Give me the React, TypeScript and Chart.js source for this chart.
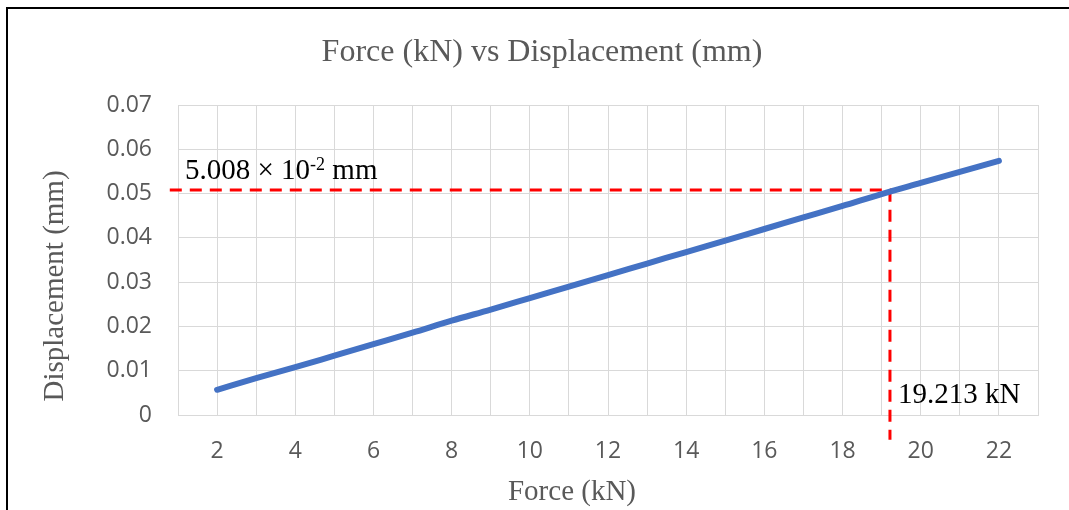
import React, { useEffect, useRef } from "react";
import { Chart, registerables } from "chart.js";

Chart.register(...registerables);

// ---- data ----
const forceKN = [2, 3, 4, 5, 6, 7, 8, 9, 10, 11, 12, 13, 14, 15, 16, 17, 18, 19, 20, 21, 22];
const displacementMM = [
  0.0057, 0.0083, 0.0108, 0.0134, 0.016, 0.0186, 0.0213, 0.0238, 0.0264, 0.029, 0.0316,
  0.0342, 0.0368, 0.0394, 0.042, 0.0446, 0.0472, 0.0499, 0.0524, 0.0549, 0.0574,
];
const xTickLabels = ["2", "4", "6", "8", "10", "12", "14", "16", "18", "20", "22"];
const yTickLabels = ["0", "0.01", "0.02", "0.03", "0.04", "0.05", "0.06", "0.07"];

// marker (dashed guide lines)
const markerForce = 19.213;
const markerDisp = 0.0508;
const markerStartForce = 0.79;
const markerEndDisp = -0.0056;
const markerDispMantissa = "5.008 \u00d7 10";
const markerDispExponent = "-2";
const markerDispUnit = " mm";
const markerForceLabel = "19.213 kN";

const chartTitle = "Force (kN) vs Displacement (mm)";
const xTitle = "Force (kN)";
const yTitle = "Displacement (mm)";

const SERIF = "'Liberation Serif', 'Times New Roman', serif";
const SANS = "'Open Sans', sans-serif";

const textPlugin = {
  id: "textPlugin",
  afterDraw(chart: any) {
    const ctx = chart.ctx as CanvasRenderingContext2D;
    const xs = chart.scales.x;
    const ys = chart.scales.y;
    ctx.save();
    // chart title
    ctx.fillStyle = "#595959";
    ctx.font = `32px ${SERIF}`;
    ctx.textAlign = "center";
    ctx.textBaseline = "alphabetic";
    ctx.fillText(chartTitle, 542, 61);
    // x title
    ctx.font = `29px ${SERIF}`;
    ctx.fillText(xTitle, 572, 500);
    // y title
    ctx.save();
    ctx.translate(63, 286);
    ctx.rotate(-Math.PI / 2);
    ctx.fillText(yTitle, 0, 0);
    ctx.restore();

    // annotation: displacement
    ctx.fillStyle = "#000000";
    ctx.textAlign = "left";
    let ax = xs.getPixelForValue(1) + 7;
    const ay = ys.getPixelForValue(markerDisp) - 11;
    ctx.font = `29px ${SERIF}`;
    ctx.fillText(markerDispMantissa, ax, ay);
    ax += ctx.measureText(markerDispMantissa).width;
    ctx.font = `18px ${SERIF}`;
    ctx.fillText(markerDispExponent, ax, ay - 9);
    ax += ctx.measureText(markerDispExponent).width;
    ctx.font = `29px ${SERIF}`;
    ctx.fillText(markerDispUnit, ax, ay);

    // annotation: force
    ctx.fillText(markerForceLabel, xs.getPixelForValue(markerForce) + 8, ys.getPixelForValue(0) - 12);
    ctx.restore();
  },
};

export default function App() {
  const ref = useRef<HTMLCanvasElement | null>(null);
  useEffect(() => {
    if (!ref.current) return;
    const chart = new Chart(ref.current, {
      type: "line",
      data: {
        datasets: [
          {
            label: "guide",
            data: [
              { x: markerStartForce, y: markerDisp },
              { x: markerForce, y: markerDisp },
              { x: markerForce, y: markerEndDisp },
            ],
            borderColor: "#FF0000",
            borderWidth: 3,
            borderDash: [12, 8],
            pointRadius: 0,
            tension: 0,
            clip: false as any,
            order: 2,
          },
          {
            label: "Displacement",
            data: forceKN.map((f, i) => ({ x: f, y: displacementMM[i] })),
            borderColor: "#4472C4",
            borderWidth: 6,
            borderCapStyle: "round",
            borderJoinStyle: "round",
            pointRadius: 0,
            cubicInterpolationMode: "monotone",
            order: 1,
          },
        ],
      },
      options: {
        animation: false,
        responsive: false,
        devicePixelRatio: 1,
        layout: { padding: { left: 0, top: 105, right: 31, bottom: 0 } },
        plugins: { legend: { display: false }, tooltip: { enabled: false }, title: { display: false } },
        scales: {
          x: {
            type: "linear",
            min: 1,
            max: 23,
            afterFit: (s: any) => {
              s.height = 95;
            },
            grid: { color: "#D9D9D9", lineWidth: 1, drawTicks: false },
            border: { color: "#D9D9D9", width: 1 },
            ticks: {
              stepSize: 1,
              autoSkip: false,
              maxRotation: 0,
              padding: 23,
              color: "#595959",
              font: { family: SANS, size: 23 },
              callback: (v: any) => (xTickLabels.includes(String(v)) ? String(v) : ""),
            },
          },
          y: {
            type: "linear",
            min: 0,
            max: 0.07,
            afterFit: (s: any) => {
              s.width = 178;
            },
            grid: { color: "#D9D9D9", lineWidth: 1, drawTicks: false },
            border: { color: "#D9D9D9", width: 1 },
            ticks: {
              stepSize: 0.01,
              padding: 26,
              color: "#595959",
              font: { family: SANS, size: 23 },
              callback: (v: any) => yTickLabels[Math.round(Number(v) * 100)] ?? "",
            },
          },
        },
      },
      plugins: [textPlugin],
    });
    return () => chart.destroy();
  }, []);

  return (
    <div style={{ position: "absolute", left: 0, top: 0, width: 1069, height: 510, overflow: "hidden", background: "#fff" }}>
      <div
        style={{
          position: "absolute",
          left: 6,
          top: 7,
          right: 0,
          bottom: 0,
          borderTop: "2px solid #000",
          borderLeft: "2px solid #000",
        }}
      />
      <canvas ref={ref} width={1069} height={510} style={{ position: "absolute", left: 0, top: 0, width: 1069, height: 510 }} />
    </div>
  );
}
